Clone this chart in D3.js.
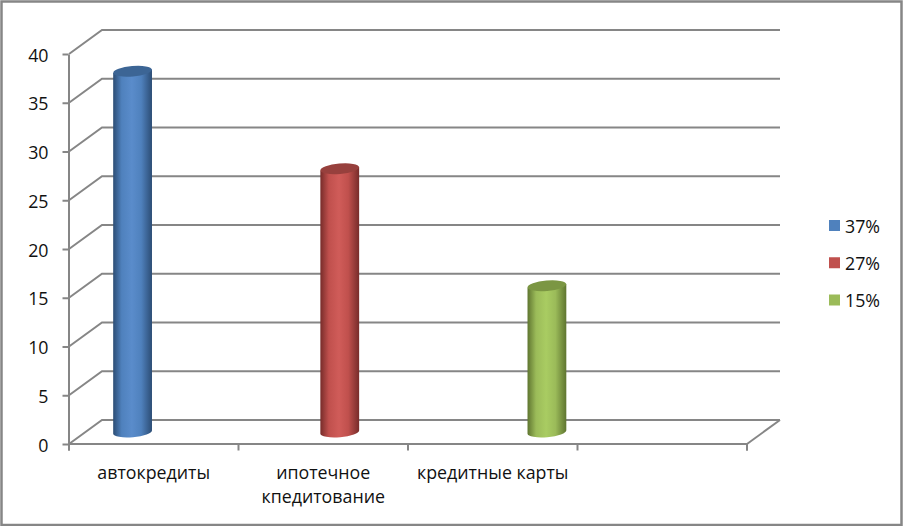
<!DOCTYPE html>
<html><head><meta charset="utf-8">
<script src="https://cdn.jsdelivr.net/npm/d3@7/dist/d3.min.js"></script>
<style>html,body{margin:0;padding:0;background:#fff}svg{display:block}
text{font-family:"Open Sans",sans-serif;font-size:17.8px;fill:#111}</style>
</head><body><svg id="c" width="903" height="526"></svg>
<script>
const categories = [["автокредиты"],["ипотечное","кпедитование"],["кредитные карты"],[""]];
const seriesNames = ["37%","27%","15%"];
const seriesValues = [37,27,15];
const seriesCategory = [0,1,2];
const seriesColors = ["#4F81BD","#C0504D","#9BBB59"];
const seriesDark = ["#2c4d75","#772c2a","#5f7530"];
const seriesLight = ["#5a8ccb","#d05c59","#a9cc62"];
const seriesTop = ["#3c6595","#97403d","#7b9643"];
const yTicks = [0,5,10,15,20,25,30,35,40];

const GRID="#868686", W=903, H=526;
const svg=d3.select("#c");
const depthX=33, depthY=24;
const x=d3.scaleBand().domain(d3.range(categories.length)).range([69,747]);
const xs=d3.scaleBand().domain(d3.range(seriesNames.length)).range([0,x.bandwidth()]).paddingInner(0).paddingOuter(0.75);
const y=d3.scaleLinear().domain([0,40]).range([444,54]);

svg.append("rect").attr("x",1.5).attr("y",1.5).attr("width",900).attr("height",523.5)
  .attr("fill","#fff").attr("stroke",GRID).attr("stroke-width",2.5);

const defs=svg.append("defs");
seriesNames.forEach((s,i)=>{
  const g=defs.append("linearGradient").attr("id","g"+i);
  [[0,seriesDark[i]],[0.22,seriesColors[i]],[0.48,seriesLight[i]],[0.72,seriesColors[i]],[1,seriesDark[i]]]
   .forEach(([o,c])=>g.append("stop").attr("offset",o).attr("stop-color",c));
});

// gridlines
const grid=svg.append("g").attr("fill","none").attr("stroke",GRID).attr("stroke-width",2);
yTicks.forEach(t=>{
  grid.append("path").attr("d",d3.line()([[69,y(t)],[69+depthX,y(t)-depthY],[747+depthX,y(t)-depthY]]));
});
grid.append("path").attr("d",d3.line()([[747,y(0)],[747+depthX,y(0)-depthY]]));

// axes
const ax=svg.append("g").attr("transform","translate(68.5,0)")
  .call(d3.axisLeft(y).tickValues(yTicks).tickSize(6).tickPadding(14).tickSizeOuter(0));
ax.selectAll("line,path").attr("stroke",GRID).attr("stroke-width",2);
ax.selectAll("text").attr("dy","0.4em").attr("fill",null);
ax.attr("font-family",null).attr("font-size",null);

const bx=svg.append("g").attr("transform",`translate(-0.5,${y(0)-0.5})`)
  .call(d3.axisBottom(d3.scalePoint().domain(d3.range(categories.length+1)).range([69,747])).tickSize(7).tickFormat(""));
bx.selectAll("line,path").attr("stroke",GRID).attr("stroke-width",2);

// cylinders
const rx=xs.bandwidth()/2*1.03, ry=5.2, tilt=-5;
seriesNames.forEach((s,i)=>{
  const cx=x(seriesCategory[i])+xs(i)+xs.bandwidth()/2+depthX/2;
  const top=y(seriesValues[i])-depthY/2, base=y(0)-depthY/2;
  const dy=rx*Math.sin(tilt*Math.PI/180);
  const g=svg.append("g");
  g.append("path").attr("fill",`url(#g${i})`)
    .attr("d",`M${cx-rx},${top-dy} L${cx+rx},${top+dy} L${cx+rx},${base+dy} A${rx},${ry} ${tilt} 0 1 ${cx-rx},${base-dy} Z`);
  g.append("ellipse").attr("cx",cx).attr("cy",top).attr("rx",rx).attr("ry",ry)
    .attr("transform",`rotate(${tilt} ${cx} ${top})`).attr("fill",seriesTop[i]);
});

// category labels
categories.forEach((lines,i)=>{
  const t=svg.append("text").attr("text-anchor","middle");
  lines.forEach((l,j)=>t.append("tspan").attr("x",x(i)+x.bandwidth()/2).attr("y",479+j*24).text(l));
});

// legend
const leg=d3.scalePoint().domain(seriesNames).range([226,300.5]);
seriesNames.forEach((s,i)=>{
  svg.append("rect").attr("x",829).attr("y",leg(s)-6).attr("width",11).attr("height",11).attr("fill",seriesColors[i]);
  svg.append("text").attr("x",845).attr("y",leg(s)+6.5).text(s);
});
</script></body></html>
